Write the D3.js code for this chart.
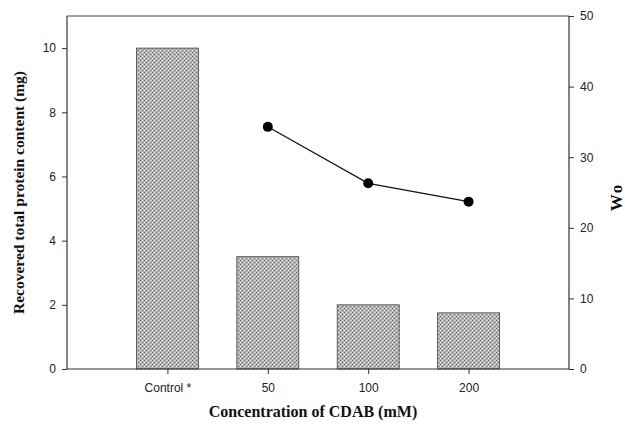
<!DOCTYPE html>
<html>
<head>
<meta charset="utf-8">
<script src="https://cdn.jsdelivr.net/npm/d3@7.9.0/dist/d3.min.js"></script>
<style>
  body { margin: 0; background: #fff; }
  svg { display: block; }
  .tick text { font-family: "Liberation Sans", Arial, sans-serif; font-size: 12px; fill: #222; }
  .title { font-family: "Liberation Serif", "Times New Roman", serif; font-weight: bold; fill: #111; }
</style>
</head>
<body>
<div id="chart"></div>
<script>
// ---------- DATA ----------
const categories = ['Control *', '50', '100', '200'];
const protein = [10, 3.5, 2.0, 1.75];        // left axis, bars (mg)
const woCategories = ['50', '100', '200'];
const woValues = [34.3, 26.3, 23.7];          // right axis, line
const leftTicks = [0, 2, 4, 6, 8, 10];
const rightTicks = [0, 10, 20, 30, 40, 50];

// ---------- LAYOUT ----------
const width = 625;
const height = 425;
const margin = { top: 16, right: 56, bottom: 56, left: 67 };
const plot = {
  left: margin.left,
  right: width - margin.right,
  top: margin.top,
  bottom: height - margin.bottom,
};

const svg = d3.select('#chart')
  .append('svg')
  .attr('width', width)
  .attr('height', height);

// textured gray fill for bars
const defs = svg.append('defs');
const pat = defs.append('pattern')
  .attr('id', 'grain')
  .attr('width', 4)
  .attr('height', 4)
  .attr('patternUnits', 'userSpaceOnUse');
pat.append('rect').attr('width', 4).attr('height', 4).attr('fill', '#b4b4b4');
pat.append('rect').attr('x', 0).attr('y', 0).attr('width', 1).attr('height', 1).attr('fill', '#666');
pat.append('rect').attr('x', 2).attr('y', 2).attr('width', 1).attr('height', 1).attr('fill', '#666');
pat.append('rect').attr('x', 2).attr('y', 0).attr('width', 1).attr('height', 1).attr('fill', '#e6e6e6');
pat.append('rect').attr('x', 0).attr('y', 2).attr('width', 1).attr('height', 1).attr('fill', '#e6e6e6');

// ---------- SCALES ----------
const xScale = d3.scalePoint()
  .domain(['', ...categories, ' '])
  .range([plot.left, plot.right]);

const yLeft = d3.scaleLinear().domain([0, 11]).range([plot.bottom, plot.top]);
const yRight = d3.scaleLinear().domain([0, 50]).range([plot.bottom, plot.top]);

const barWidth = 62;

// ---------- BARS ----------
svg.append('g')
  .selectAll('rect')
  .data(categories.map((c, i) => ({ c, v: protein[i] })))
  .join('rect')
  .attr('x', (d) => xScale(d.c) - barWidth / 2)
  .attr('y', (d) => yLeft(d.v))
  .attr('width', barWidth)
  .attr('height', (d) => yLeft(0) - yLeft(d.v))
  .attr('fill', 'url(#grain)')
  .attr('stroke', '#444')
  .attr('stroke-width', 0.8);

// ---------- FRAME ----------
svg.append('line')
  .attr('x1', plot.left).attr('x2', plot.right)
  .attr('y1', plot.top).attr('y2', plot.top)
  .attr('stroke', '#444').attr('stroke-width', 1);

// ---------- AXES ----------
const leftAxis = svg.append('g')
  .attr('transform', `translate(${plot.left},0)`)
  .call(d3.axisLeft(yLeft).tickValues(leftTicks).tickSize(5).tickPadding(6));

const rightAxis = svg.append('g')
  .attr('transform', `translate(${plot.right},0)`)
  .call(d3.axisRight(yRight).tickValues(rightTicks).tickSize(5).tickPadding(6));

const bottomAxis = svg.append('g')
  .attr('transform', `translate(0,${plot.bottom})`)
  .call(d3.axisBottom(xScale).tickValues(categories).tickSize(5).tickPadding(9));

[leftAxis, rightAxis, bottomAxis].forEach((g) => {
  g.select('.domain').attr('stroke', '#333').attr('stroke-width', 1.2);
  g.selectAll('.tick line').attr('stroke', '#333');
});
// remove end caps of domain paths for clean frame
leftAxis.select('.domain').attr('d', `M0,${plot.bottom}V${plot.top}`);
rightAxis.select('.domain').attr('d', `M0,${plot.bottom}V${plot.top}`);
bottomAxis.select('.domain').attr('d', `M${plot.left},0H${plot.right}`);

// ---------- LINE ----------
const woPoints = woCategories.map((c, i) => ({ c, v: woValues[i] }));
svg.append('path')
  .datum(woPoints)
  .attr('fill', 'none')
  .attr('stroke', '#111')
  .attr('stroke-width', 1.2)
  .attr('d', d3.line().x((d) => xScale(d.c)).y((d) => yRight(d.v)));

svg.append('g')
  .selectAll('circle')
  .data(woPoints)
  .join('circle')
  .attr('cx', (d) => xScale(d.c))
  .attr('cy', (d) => yRight(d.v))
  .attr('r', 5)
  .attr('fill', '#000');

// ---------- TITLES ----------
svg.append('text')
  .attr('class', 'title')
  .attr('text-anchor', 'middle')
  .style('font-size', '15.5px')
  .attr('transform', `translate(24,${(plot.top + plot.bottom) / 2}) rotate(-90)`)
  .text('Recovered total protein content (mg)');

svg.append('text')
  .attr('class', 'title')
  .attr('text-anchor', 'middle')
  .style('font-size', '17px')
  .style('letter-spacing', '2px')
  .attr('transform', `translate(622,${197}) rotate(-90)`)
  .text('Wo');

svg.append('text')
  .attr('class', 'title')
  .attr('text-anchor', 'middle')
  .style('font-size', '16px')
  .attr('x', 313)
  .attr('y', 417)
  .text('Concentration of CDAB (mM)');
</script>
</body>
</html>
